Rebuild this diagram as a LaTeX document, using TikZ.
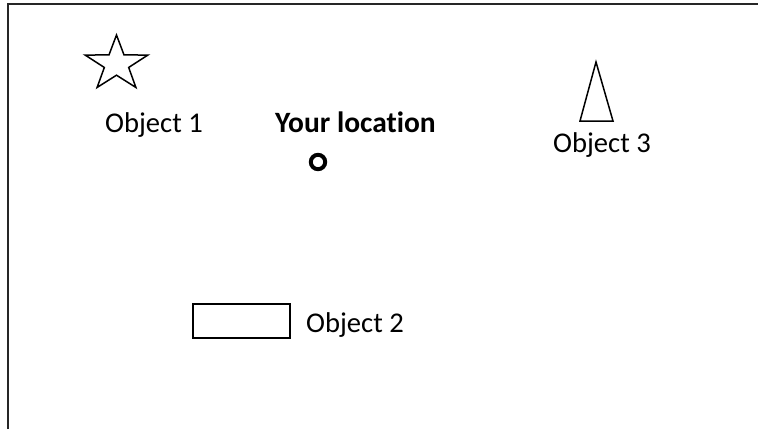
\documentclass[tikz,border=0pt]{standalone}
\usepackage{fontspec}
\setmainfont{Carlito}[Ligatures=NoCommon]
\begin{document}
\begin{tikzpicture}[x=1pt,y=-1pt,
  label/.style={anchor=base west,inner sep=0pt,font=\fontsize{28.6}{34}\selectfont},
  outline/.style={draw=black,line width=1.5pt,line join=miter}]
\useasboundingbox (0,0) rectangle (758,429);
% frame (left and top edges)
\draw[line width=2pt,black!85] (8,429) -- (8,4) -- (758,4);
% object 1: five-pointed star
\draw[outline] plot[samples at={0,...,9}] ({116.5+((mod(\x,2)==0)?33:12.8)*sin(36*\x)},{64-((mod(\x,2)==0)?29:11.2)*cos(36*\x)}) -- cycle;
\node[label] (o1) at (105,132) {Object 1};
% your location
\node[label,font=\fontsize{29.5}{35}\selectfont\bfseries] (you) at (275,132) {Your location};
\draw[line width=4pt] (318,162) circle[radius=7.2];
% object 3: narrow triangle
\draw[outline] (596,62) -- (613,121) -- (580,121) -- cycle;
\node[label] (o3) at (553,152) {Object 3};
% object 2: rectangle
\draw[outline] (193,304) rectangle (290,338);
\node[label] (o2) at (306,332) {Object 2};
\end{tikzpicture}
\end{document}
